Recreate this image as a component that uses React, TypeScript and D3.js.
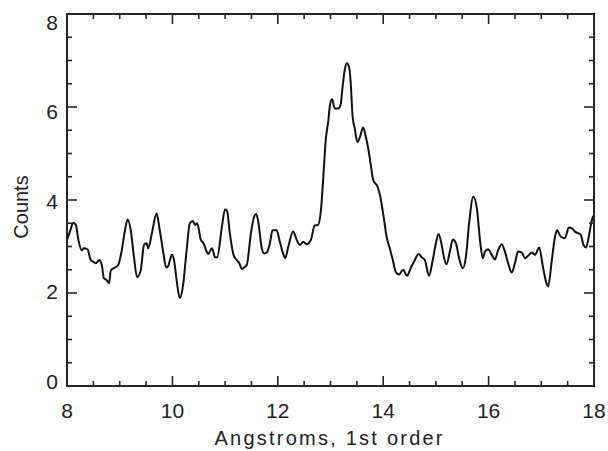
import React from "react";
import * as d3 from "d3";

const wavelengths = [
  8.0, 8.05, 8.12, 8.17, 8.21, 8.28, 8.32, 8.39, 8.45, 8.5, 8.55, 8.61, 8.66, 8.7, 8.75, 8.8, 8.83, 8.91, 8.97,
  9.04, 9.1, 9.15, 9.21, 9.27, 9.33, 9.4, 9.46, 9.51, 9.54, 9.61, 9.7, 9.76, 9.83, 9.88, 9.92, 9.99,
  10.03, 10.08, 10.14, 10.2, 10.27, 10.33, 10.39, 10.43, 10.47, 10.54, 10.59, 10.65, 10.68, 10.75, 10.81, 10.85, 10.94,
  11.0, 11.04, 11.09, 11.16, 11.22, 11.27, 11.32, 11.36, 11.41, 11.49, 11.55, 11.59, 11.63, 11.69, 11.74, 11.79, 11.85, 11.9, 11.98,
  12.03, 12.09, 12.14, 12.2, 12.29, 12.36, 12.42, 12.48, 12.55, 12.63, 12.7, 12.76, 12.82, 12.86, 12.91, 12.96, 12.99,
  13.03, 13.08, 13.15, 13.19, 13.23, 13.27, 13.31, 13.35, 13.38, 13.42, 13.46, 13.51, 13.56, 13.62, 13.67, 13.72, 13.76, 13.81, 13.89, 13.94,
  14.0, 14.07, 14.13, 14.19, 14.24, 14.3, 14.38, 14.45, 14.52, 14.6, 14.67, 14.73, 14.79, 14.87, 14.94,
  15.0, 15.05, 15.11, 15.15, 15.2, 15.27, 15.32, 15.38, 15.44, 15.51, 15.57, 15.63, 15.71, 15.78, 15.84, 15.89, 15.93, 15.99,
  16.06, 16.12, 16.18, 16.25, 16.31, 16.37, 16.44, 16.5, 16.56, 16.63, 16.69, 16.75, 16.82, 16.88, 16.96,
  17.03, 17.09, 17.13, 17.2, 17.26, 17.3, 17.37, 17.45, 17.52, 17.58, 17.64, 17.71, 17.75, 17.8, 17.85, 17.9, 17.94, 17.98, 18.0,
];

const counts = [
  3.14, 3.3, 3.51, 3.46, 3.18, 2.92, 2.96, 2.94, 2.71, 2.67, 2.64, 2.71, 2.6, 2.32, 2.28, 2.21, 2.48, 2.55, 2.6,
  2.92, 3.35, 3.58, 3.35, 2.78, 2.34, 2.49, 3.03, 3.07, 2.96, 3.28, 3.71, 3.35, 2.85, 2.55, 2.58, 2.82,
  2.71, 2.28, 1.89, 2.15, 2.92, 3.5, 3.55, 3.46, 3.5, 3.14, 3.07, 2.89, 2.84, 2.96, 2.77, 2.77, 3.43,
  3.8, 3.75, 3.28, 2.82, 2.71, 2.64, 2.51, 2.55, 2.6, 3.28, 3.64, 3.7, 3.53, 3.0, 2.85, 2.87, 3.07, 3.35, 3.35,
  3.14, 2.89, 2.75, 3.0, 3.32, 3.14, 3.03, 3.1, 3.05, 3.15, 3.45, 3.46, 3.8, 4.43, 5.29, 5.72, 6.04,
  6.17, 5.97, 5.97, 6.04, 6.44, 6.8, 6.94, 6.87, 6.58, 5.79, 5.54, 5.25, 5.36, 5.56, 5.36, 5.08, 4.79, 4.43, 4.29, 4.1,
  3.7, 3.18, 2.94, 2.67, 2.45, 2.4, 2.5, 2.37, 2.53, 2.71, 2.84, 2.77, 2.71, 2.37, 2.71,
  3.07, 3.27, 3.03, 2.78, 2.62, 2.92, 3.15, 3.07, 2.75, 2.53, 2.78, 3.5, 4.07, 3.8, 3.1, 2.75, 2.89, 2.94,
  2.82, 2.72, 2.92, 3.05, 2.89, 2.64, 2.44, 2.64, 2.89, 2.87, 2.75, 2.8, 2.87, 2.82, 2.98,
  2.57, 2.24, 2.14, 2.71, 3.21, 3.35, 3.21, 3.18, 3.41, 3.39, 3.32, 3.28, 3.25, 3.03, 2.98, 3.21, 3.46, 3.64, 3.66,
];

const xMajorTicks = [8, 10, 12, 14, 16, 18];
const xMinorTicks = [8.5, 9, 9.5, 10.5, 11, 11.5, 12.5, 13, 13.5, 14.5, 15, 15.5, 16.5, 17, 17.5];
const yMajorTicks = [0, 2, 4, 6, 8];
const yMinorTicks = [0.5, 1, 1.5, 2.5, 3, 3.5, 4.5, 5, 5.5, 6.5, 7, 7.5];

const xTitle = "Angstroms, 1st order";
const yTitle = "Counts";

const W = 608;
const H = 451;
const left = 67;
const right = 594;
const top = 14;
const bottom = 386;

export default function App() {
  const x = d3.scaleLinear().domain([8, 18]).range([left, right]);
  const y = d3.scaleLinear().domain([0, 8]).range([bottom, top]);
  const yLabel = d3.scaleLinear().domain([0, 8]).range([381, 22]);

  const data = wavelengths.map((w, i) => [w, counts[i]] as [number, number]);
  const line = d3
    .line<[number, number]>()
    .x((d) => x(d[0]))
    .y((d) => y(d[1]))
    .curve(d3.curveMonotoneX);

  const axisColor = "#262626";
  const font = "'Liberation Sans', Arial, sans-serif";
  const majorLen = 10;
  const minorLen = 5;

  return (
    <svg
      width={W}
      height={H}
      style={{ position: "absolute", left: 0, top: 0, background: "#fff" }}
    >
      <defs>
        <clipPath id="plotclip">
          <rect x={left} y={top} width={right - left} height={bottom - top} />
        </clipPath>
      </defs>

      <path
        d={line(data) || ""}
        fill="none"
        stroke="#111"
        strokeWidth={2}
        strokeLinejoin="round"
        clipPath="url(#plotclip)"
      />

      {/* ticks */}
      <g stroke={axisColor} strokeWidth={1.6}>
        {xMajorTicks.map((t) => (
          <g key={"xM" + t}>
            <line x1={x(t)} x2={x(t)} y1={bottom} y2={bottom - majorLen} />
            <line x1={x(t)} x2={x(t)} y1={top} y2={top + majorLen} />
          </g>
        ))}
        {xMinorTicks.map((t) => (
          <g key={"xm" + t}>
            <line x1={x(t)} x2={x(t)} y1={bottom} y2={bottom - minorLen} />
            <line x1={x(t)} x2={x(t)} y1={top} y2={top + minorLen} />
          </g>
        ))}
        {yMajorTicks.map((t) => (
          <g key={"yM" + t}>
            <line x1={left} x2={left + majorLen} y1={y(t)} y2={y(t)} />
            <line x1={right} x2={right - majorLen} y1={y(t)} y2={y(t)} />
          </g>
        ))}
        {yMinorTicks.map((t) => (
          <g key={"ym" + t}>
            <line x1={left} x2={left + minorLen} y1={y(t)} y2={y(t)} />
            <line x1={right} x2={right - minorLen} y1={y(t)} y2={y(t)} />
          </g>
        ))}
      </g>

      {/* frame */}
      <rect
        x={left}
        y={top}
        width={right - left}
        height={bottom - top}
        fill="none"
        stroke={axisColor}
        strokeWidth={2}
      />

      {/* tick labels */}
      <g fill="#222" fontFamily={font} fontSize={21}>
        {xMajorTicks.map((t) => (
          <text key={"xl" + t} x={x(t)} y={418} textAnchor="middle">
            {t}
          </text>
        ))}
        {yMajorTicks.map((t) => (
          <text key={"yl" + t} x={58} y={yLabel(t)} textAnchor="end" dominantBaseline="central">
            {t}
          </text>
        ))}
      </g>

      <text
        x={(left + right) / 2 - 2}
        y={445}
        textAnchor="middle"
        fontFamily={font}
        fontSize={20}
        fill="#222"
        textLength={228}
        lengthAdjust="spacing"
      >
        {xTitle}
      </text>
      <text
        transform={`translate(28, 207) rotate(-90)`}
        textAnchor="middle"
        fontFamily={font}
        fontSize={20}
        fill="#222"
      >
        {yTitle}
      </text>
    </svg>
  );
}
